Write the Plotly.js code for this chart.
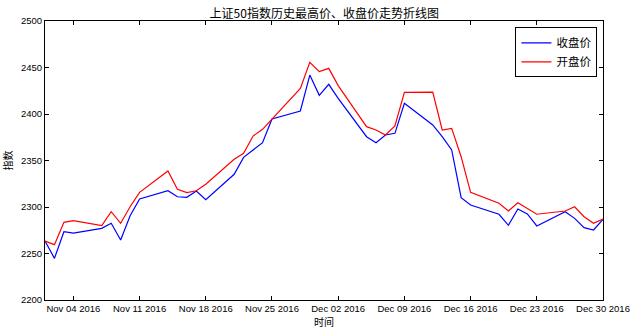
<!DOCTYPE html>
<html>
<head>
<meta charset="utf-8">
<script src="https://cdn.plot.ly/plotly-3.0.1.min.js"></script>
<style>html,body{margin:0;padding:0;background:#fff;}#chart{width:637px;height:334px;}</style>
</head>
<body>
<div id="chart"></div>
<script>
const dates = [
  '2016-11-01','2016-11-02','2016-11-03','2016-11-04','2016-11-07','2016-11-08','2016-11-09','2016-11-10','2016-11-11',
  '2016-11-14','2016-11-15','2016-11-16','2016-11-17','2016-11-18','2016-11-21','2016-11-22','2016-11-23','2016-11-24','2016-11-25',
  '2016-11-28','2016-11-29','2016-11-30','2016-12-01','2016-12-02','2016-12-05','2016-12-06','2016-12-07','2016-12-08','2016-12-09',
  '2016-12-12','2016-12-13','2016-12-14','2016-12-15','2016-12-16','2016-12-19','2016-12-20','2016-12-21','2016-12-22','2016-12-23',
  '2016-12-26','2016-12-27','2016-12-28','2016-12-29','2016-12-30'
];
const closePrice = [
  2263.4,2244.8,2273.4,2272.0,2277.0,2282.5,2264.5,2290.6,2308.6,
  2317.5,2311.0,2310.4,2317.2,2307.8,2335.2,2353.4,2361.3,2369.1,2394.6,
  2403.2,2441.9,2420.1,2431.9,2416.9,2375.6,2369.1,2377.4,2379.2,2411.5,
  2388.2,2375.6,2361.3,2310.0,2302.2,2292.2,2280.3,2297.8,2292.5,2279.6,
  2295.0,2287.8,2277.8,2275.3,2286.8
];
const openPrice = [
  2263.4,2259.5,2283.5,2285.3,2279.9,2295.0,2282.5,2300.3,2315.8,
  2338.7,2319.0,2315.4,2317.5,2324.4,2351.3,2357.7,2376.3,2383.5,2394.5,
  2427.6,2455.6,2445.5,2449.1,2430.5,2386.4,2382.8,2377.4,2387.1,2423.3,
  2423.5,2382.8,2384.6,2354.1,2315.8,2304.0,2295.7,2304.6,2298.6,2292.2,
  2295.7,2300.3,2289.6,2282.5,2287.1
];
const xTickVals = ['2016-11-04','2016-11-11','2016-11-18','2016-11-25','2016-12-02','2016-12-09','2016-12-16','2016-12-23','2016-12-30'];
const xTickText = ['Nov 04 2016','Nov 11 2016','Nov 18 2016','Nov 25 2016','Dec 02 2016','Dec 09 2016','Dec 16 2016','Dec 23 2016','Dec 30 2016'];
const seriesNames = ['收盘价','开盘价'];
const titleText = '上证50指数历史最高价、收盘价走势折线图';
const xTitle = '时间';
const yTitle = '指数';

const cjk = '"Noto Sans CJK SC", sans-serif';
const tickFont = {family: '"Liberation Sans", Arial, sans-serif', size: 9.5, color: '#000'};

const traces = [
  {x: dates, y: closePrice, name: seriesNames[0], type: 'scatter', mode: 'lines',
   line: {color: '#0000ff', width: 1.2}},
  {x: dates, y: openPrice, name: seriesNames[1], type: 'scatter', mode: 'lines',
   line: {color: '#ff0000', width: 1.2}}
];

const layout = {
  width: 637, height: 334,
  margin: {l: 45, r: 34, t: 21, b: 34, pad: 0},
  paper_bgcolor: '#fff', plot_bgcolor: '#fff',
  title: {text: titleText, font: {family: cjk, size: 12, color: '#000'},
          x: 0.509, xanchor: 'center', y: 0.96, yanchor: 'middle'},
  showlegend: true,
  legend: {x: 0.99, xanchor: 'right', y: 0.977, yanchor: 'top',
           bgcolor: '#fff', bordercolor: '#000', borderwidth: 1,
           font: {family: cjk, size: 11.5, color: '#000'}, itemwidth: 30,
           tracegroupgap: 0},
  xaxis: {
    type: 'date', range: ['2016-11-01', '2016-12-30'],
    tickmode: 'array', tickvals: xTickVals, ticktext: xTickText,
    ticks: 'inside', ticklen: 4, tickcolor: '#000', tickwidth: 1,
    showline: true, linecolor: '#000', linewidth: 1, mirror: 'allticks',
    showgrid: false, zeroline: false, tickfont: tickFont,
    title: {text: xTitle, font: {family: cjk, size: 10, color: '#000'}, standoff: 4},
    automargin: false
  },
  yaxis: {
    range: [2200, 2500], tickmode: 'linear', tick0: 2200, dtick: 50,
    ticks: 'inside', ticklen: 4, tickcolor: '#000', tickwidth: 1,
    showline: true, linecolor: '#000', linewidth: 1, mirror: 'allticks',
    showgrid: false, zeroline: false, tickfont: tickFont,
    title: {text: yTitle, font: {family: cjk, size: 10, color: '#000'}, standoff: 6},
    automargin: false
  }
};

Plotly.newPlot('chart', traces, layout, {displayModeBar: false, staticPlot: true});
</script>
</body>
</html>
